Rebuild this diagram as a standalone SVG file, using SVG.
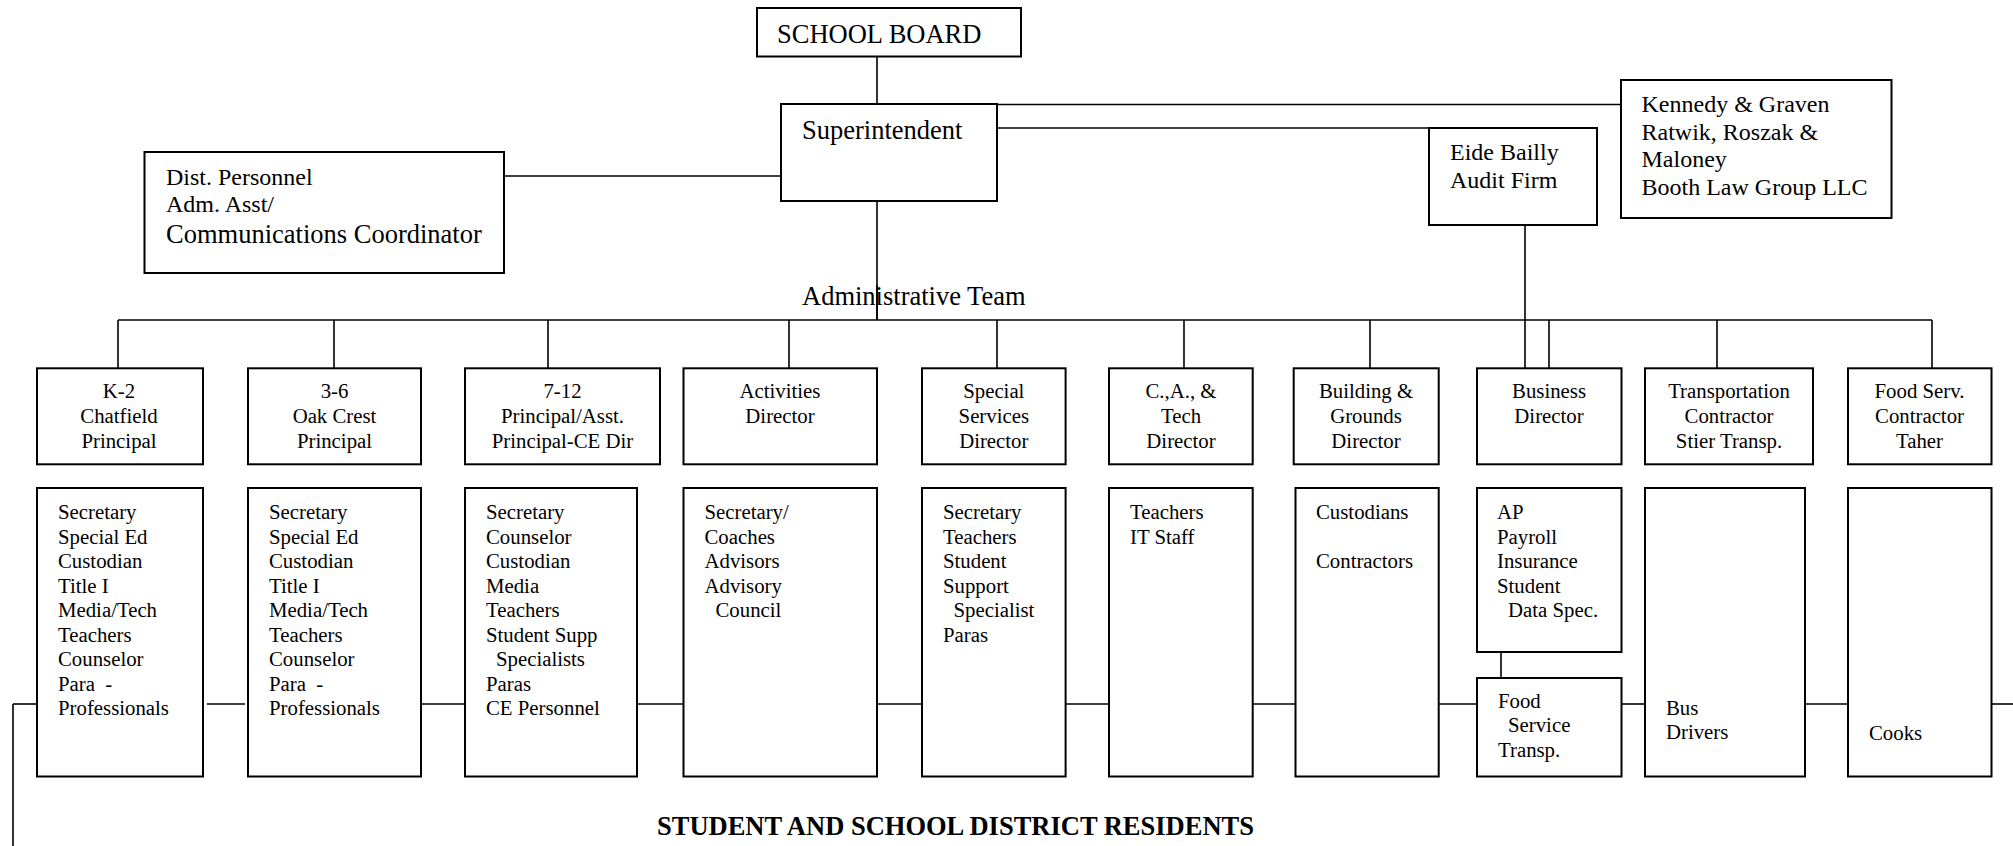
<svg xmlns="http://www.w3.org/2000/svg" width="2013" height="846" viewBox="0 0 2013 846">
<style>
rect{fill:#fff;stroke:#000;stroke-width:2}
.c line{stroke:#000;stroke-width:1.6}
text{font-family:"Liberation Serif","Times New Roman",serif;fill:#000}
.l{font-size:26.5px}
.m{font-size:24px}
.s{font-size:20.8px}
.ctr{text-anchor:middle}
.b{font-weight:bold}
.pre{white-space:pre}
</style>
<rect x="0" y="0" width="2013" height="846" style="stroke:none"/>
<g class="c">
<line x1="877" y1="57" x2="877" y2="104"/>
<line x1="504" y1="176" x2="781" y2="176"/>
<line x1="997" y1="104.5" x2="1621" y2="104.5"/>
<line x1="997" y1="128" x2="1429" y2="128"/>
<line x1="877" y1="201" x2="877" y2="320"/>
<line x1="118" y1="320" x2="1932" y2="320"/>
<line x1="118" y1="320" x2="118" y2="368"/>
<line x1="334" y1="320" x2="334" y2="368"/>
<line x1="548" y1="320" x2="548" y2="368"/>
<line x1="789" y1="320" x2="789" y2="368"/>
<line x1="997" y1="320" x2="997" y2="368"/>
<line x1="1184" y1="320" x2="1184" y2="368"/>
<line x1="1370" y1="320" x2="1370" y2="368"/>
<line x1="1549" y1="320" x2="1549" y2="368"/>
<line x1="1717" y1="320" x2="1717" y2="368"/>
<line x1="1932" y1="320" x2="1932" y2="368"/>
<line x1="1525" y1="225" x2="1525" y2="368"/>
<line x1="13" y1="704" x2="37" y2="704"/>
<line x1="13" y1="704" x2="13" y2="846"/>
<line x1="207" y1="704" x2="245" y2="704"/>
<line x1="421" y1="704" x2="465" y2="704"/>
<line x1="637" y1="704" x2="683.5" y2="704"/>
<line x1="877" y1="704" x2="922" y2="704"/>
<line x1="1065.6" y1="704" x2="1109" y2="704"/>
<line x1="1252.7" y1="704" x2="1295.5" y2="704"/>
<line x1="1438.7" y1="704" x2="1477" y2="704"/>
<line x1="1621" y1="704" x2="1645" y2="704"/>
<line x1="1805" y1="704" x2="1848" y2="704"/>
<line x1="1991" y1="704" x2="2013" y2="704"/>
<line x1="1501" y1="652" x2="1501" y2="678"/>
</g>
<g id="school-board"><rect x="757" y="8" width="264" height="48.5"/><text class="l" x="777" y="43">SCHOOL BOARD</text></g>
<g id="superintendent"><rect x="781" y="104" width="216" height="97"/><text class="l" x="802" y="139">Superintendent</text></g>
<g id="dist-personnel"><rect x="144.5" y="152" width="359.5" height="121"/>
<text class="m" x="166" y="185">Dist. Personnel</text><text class="m" x="166" y="212">Adm. Asst/</text><text class="l" x="166" y="243">Communications Coordinator</text></g>
<g id="legal"><rect x="1621" y="80" width="270.5" height="138"/>
<text class="m" x="1641.5" y="112">Kennedy &amp; Graven</text><text class="m" x="1641.5" y="139.5">Ratwik, Roszak &amp;</text><text class="m" x="1641.5" y="167">Maloney</text><text class="m" x="1641.5" y="195">Booth Law Group LLC</text></g>
<g id="eide-bailly"><rect x="1429" y="128" width="168" height="97"/>
<text class="m" x="1450" y="160">Eide Bailly</text><text class="m" x="1450" y="188">Audit Firm</text></g>
<g id="admin-team-label"><text class="l" x="802" y="305">Administrative Team</text></g>
<line x1="877" y1="285" x2="877" y2="320" style="stroke:#000;stroke-width:1.6"/>
<g id="k2"><rect x="37" y="368.3" width="166" height="96"/>
<text class="s ctr" x="119" y="398">K-2</text><text class="s ctr" x="119" y="423">Chatfield</text><text class="s ctr" x="119" y="448">Principal</text></g>
<g id="g36"><rect x="248" y="368.3" width="173" height="96"/>
<text class="s ctr" x="334.5" y="398">3-6</text><text class="s ctr" x="334.5" y="423">Oak Crest</text><text class="s ctr" x="334.5" y="448">Principal</text></g>
<g id="g712"><rect x="465" y="368.3" width="195" height="96"/>
<text class="s ctr" x="562.5" y="398">7-12</text><text class="s ctr" x="562.5" y="423">Principal/Asst.</text><text class="s ctr" x="562.5" y="448">Principal-CE Dir</text></g>
<g id="activities"><rect x="683.5" y="368.3" width="193.5" height="96"/>
<text class="s ctr" x="780" y="398">Activities</text><text class="s ctr" x="780" y="423">Director</text></g>
<g id="special-services"><rect x="922" y="368.3" width="143.6" height="96"/>
<text class="s ctr" x="993.8" y="398">Special</text><text class="s ctr" x="993.8" y="423">Services</text><text class="s ctr" x="993.8" y="448">Director</text></g>
<g id="cat"><rect x="1109" y="368.3" width="143.7" height="96"/>
<text class="s ctr" x="1181" y="398">C.,A., &amp;</text><text class="s ctr" x="1181" y="423">Tech</text><text class="s ctr" x="1181" y="448">Director</text></g>
<g id="building"><rect x="1293.7" y="368.3" width="145" height="96"/>
<text class="s ctr" x="1366" y="398">Building &amp;</text><text class="s ctr" x="1366" y="423">Grounds</text><text class="s ctr" x="1366" y="448">Director</text></g>
<g id="business"><rect x="1477" y="368.3" width="144.5" height="96"/>
<text class="s ctr" x="1549" y="398">Business</text><text class="s ctr" x="1549" y="423">Director</text></g>
<g id="transportation"><rect x="1645" y="368.3" width="168" height="96"/>
<text class="s ctr" x="1729" y="398">Transportation</text><text class="s ctr" x="1729" y="423">Contractor</text><text class="s ctr" x="1729" y="448">Stier Transp.</text></g>
<g id="food-serv"><rect x="1848" y="368.3" width="143.5" height="96"/>
<text class="s ctr" x="1919.5" y="398">Food Serv.</text><text class="s ctr" x="1919.5" y="423">Contractor</text><text class="s ctr" x="1919.5" y="448">Taher</text></g>
<g id="k2-staff"><rect x="37" y="488" width="166" height="288.5"/>
<text class="s pre" x="58" xml:space="preserve"><tspan x="58" y="519">Secretary</tspan><tspan x="58" y="543.5">Special Ed</tspan><tspan x="58" y="568">Custodian</tspan><tspan x="58" y="592.5">Title I</tspan><tspan x="58" y="617">Media/Tech</tspan><tspan x="58" y="641.5">Teachers</tspan><tspan x="58" y="666">Counselor</tspan><tspan x="58" y="690.5">Para  -</tspan><tspan x="58" y="715">Professionals</tspan></text></g>
<g id="g36-staff"><rect x="248" y="488" width="173" height="288.5"/>
<text class="s pre" x="269" xml:space="preserve"><tspan x="269" y="519">Secretary</tspan><tspan x="269" y="543.5">Special Ed</tspan><tspan x="269" y="568">Custodian</tspan><tspan x="269" y="592.5">Title I</tspan><tspan x="269" y="617">Media/Tech</tspan><tspan x="269" y="641.5">Teachers</tspan><tspan x="269" y="666">Counselor</tspan><tspan x="269" y="690.5">Para  -</tspan><tspan x="269" y="715">Professionals</tspan></text></g>
<g id="g712-staff"><rect x="465" y="488" width="172" height="288.5"/>
<text class="s" x="486"><tspan x="486" y="519">Secretary</tspan><tspan x="486" y="543.5">Counselor</tspan><tspan x="486" y="568">Custodian</tspan><tspan x="486" y="592.5">Media</tspan><tspan x="486" y="617">Teachers</tspan><tspan x="486" y="641.5">Student Supp</tspan><tspan x="496" y="666">Specialists</tspan><tspan x="486" y="690.5">Paras</tspan><tspan x="486" y="715">CE Personnel</tspan></text></g>
<g id="activities-staff"><rect x="683.5" y="488" width="193.5" height="288.5"/>
<text class="s" x="704.5"><tspan x="704.5" y="519">Secretary/</tspan><tspan x="704.5" y="543.5">Coaches</tspan><tspan x="704.5" y="568">Advisors</tspan><tspan x="704.5" y="592.5">Advisory</tspan><tspan x="715.5" y="617">Council</tspan></text></g>
<g id="special-staff"><rect x="922" y="488" width="143.6" height="288.5"/>
<text class="s" x="943"><tspan x="943" y="519">Secretary</tspan><tspan x="943" y="543.5">Teachers</tspan><tspan x="943" y="568">Student</tspan><tspan x="943" y="592.5">Support</tspan><tspan x="953.5" y="617">Specialist</tspan><tspan x="943" y="641.5">Paras</tspan></text></g>
<g id="cat-staff"><rect x="1109" y="488" width="143.7" height="288.5"/>
<text class="s" x="1130"><tspan x="1130" y="519">Teachers</tspan><tspan x="1130" y="543.5">IT Staff</tspan></text></g>
<g id="building-staff"><rect x="1295.5" y="488" width="143.2" height="288.5"/>
<text class="s" x="1316"><tspan x="1316" y="519">Custodians</tspan><tspan x="1316" y="568">Contractors</tspan></text></g>
<g id="business-staff"><rect x="1477" y="488" width="144.5" height="164"/>
<text class="s" x="1497"><tspan x="1497" y="519">AP</tspan><tspan x="1497" y="543.5">Payroll</tspan><tspan x="1497" y="568">Insurance</tspan><tspan x="1497" y="592.5">Student</tspan><tspan x="1508" y="617">Data Spec.</tspan></text></g>
<g id="food-service-transp"><rect x="1477" y="678" width="144.5" height="98.5"/>
<text class="s" x="1498"><tspan x="1498" y="708">Food</tspan><tspan x="1508" y="732">Service</tspan><tspan x="1498" y="757">Transp.</tspan></text></g>
<g id="bus-drivers"><rect x="1645" y="488" width="160" height="288.5"/>
<text class="s" x="1666"><tspan x="1666" y="715">Bus</tspan><tspan x="1666" y="739">Drivers</tspan></text></g>
<g id="cooks"><rect x="1848" y="488" width="143.5" height="288.5"/>
<text class="s" x="1869" y="740">Cooks</text></g>
<g id="residents"><text class="l b" x="657" y="835">STUDENT AND SCHOOL DISTRICT RESIDENTS</text></g>
</svg>
